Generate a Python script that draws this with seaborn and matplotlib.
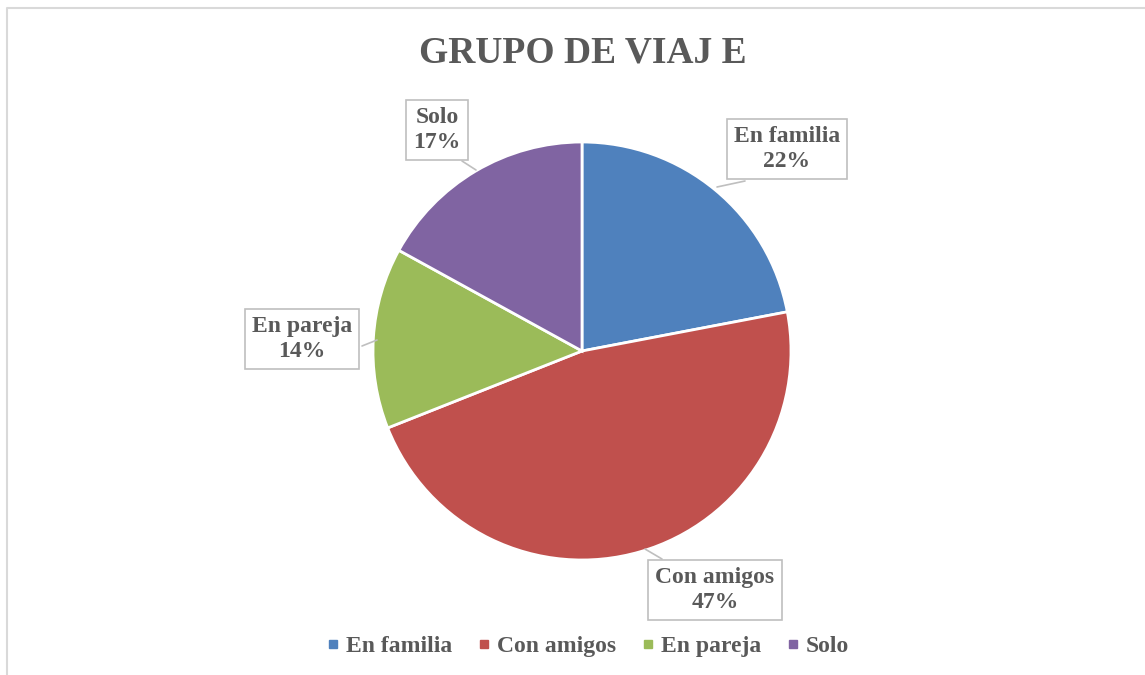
import matplotlib.pyplot as plt
import seaborn as sns
from matplotlib.lines import Line2D

# datos
categorias = ["En familia", "Con amigos", "En pareja", "Solo"]
porcentajes = [22, 47, 14, 17]
colores = ["#4F81BD", "#C0504D", "#9BBB59", "#8064A2"]
titulo = "GRUPO DE VIAJ E"

# posiciones de las etiquetas (pixeles) y punto de la linea guia
pos_etiquetas = [(787, 149), (715, 590), (302, 339), (437, 130)]
guias = [((745, 181), (717, 187)), ((662, 559), (645, 549)),
         ((362, 346), (377, 340)), ((462, 161), (476, 170))]

sns.set_theme(style="white")
plt.rcParams["font.family"] = ["Liberation Serif", "DejaVu Serif"]
gris = "#595959"

W, H = 1145, 675
fig = plt.figure(figsize=(W / 100, H / 100), dpi=100)
ax = fig.add_axes([0, 0, 1, 1])

cx, cy, r = 582, H - 351, 209
wedges, _ = ax.pie(porcentajes, colors=colores, startangle=90, counterclock=False,
                   center=(cx, cy), radius=r, frame=True,
                   wedgeprops=dict(edgecolor="white", linewidth=2))
ax.set_xlim(0, W)
ax.set_ylim(0, H)
ax.set_aspect("equal")
ax.axis("off")

for cat, p, (px, py), (a, b) in zip(categorias, porcentajes, pos_etiquetas, guias):
    ax.plot([a[0], b[0]], [H - a[1], H - b[1]], color="#BFBFBF", lw=1.2, zorder=3)
    ax.text(px, H - py, f"{cat}\n{p}%", ha="center", va="center", fontsize=17,
            fontweight="bold", color=gris, linespacing=1.3, zorder=4,
            bbox=dict(boxstyle="square,pad=0.3", fc="white", ec="#BFBFBF", lw=1.2))

ax.text(583, H - 53, titulo, ha="center", va="center", fontsize=27,
        fontweight="bold", color=gris)

# borde del grafico
ax.plot([7, 7, W], [0, H - 8, H - 8], color="#D9D9D9", lw=1.5, clip_on=False)

handles = [Line2D([], [], marker="s", ls="", markersize=6, color=c) for c in colores]
fig.legend(handles, categorias, loc="center", bbox_to_anchor=(588 / W, 1 - 646 / H),
           ncol=4, frameon=False, handlelength=0.5, handletextpad=0.3, columnspacing=1.1,
           prop=dict(family="Liberation Serif", weight="bold", size=17), labelcolor=gris)

fig.savefig("out.png", dpi=100)
